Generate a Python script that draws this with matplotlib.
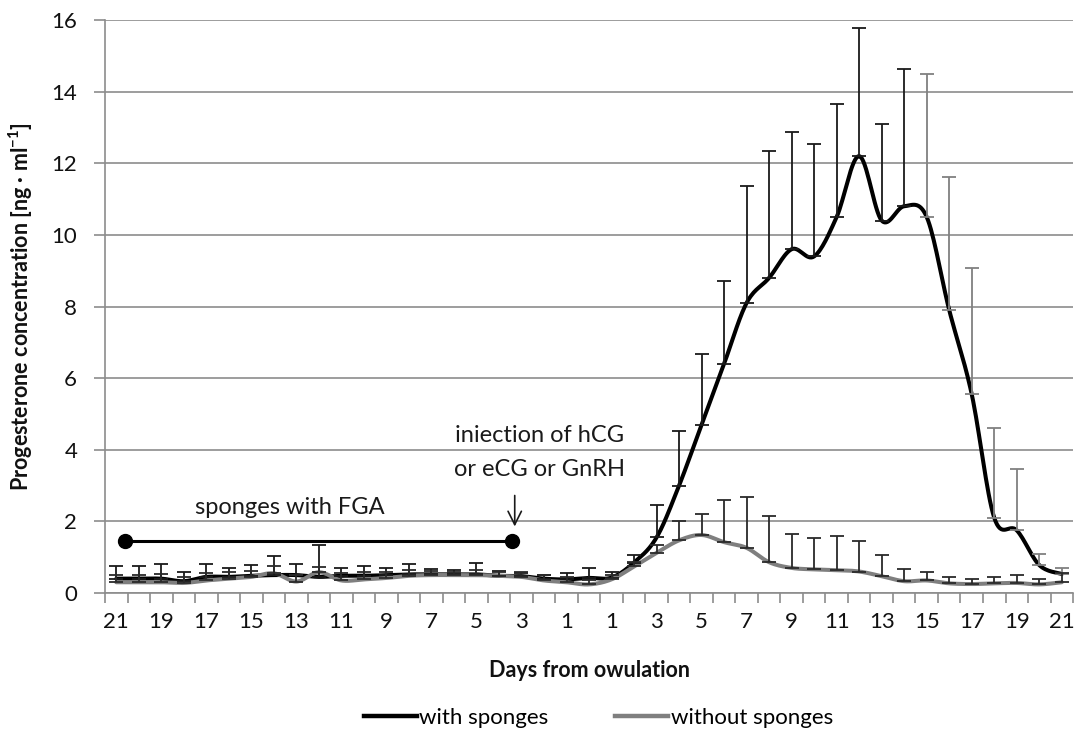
import numpy as np
import matplotlib.pyplot as plt
from matplotlib.lines import Line2D

plt.rcParams['font.family'] = ['Lato', 'DejaVu Sans']

# days from ovulation (-21 .. 21)
days = np.arange(-21, 22)

# with sponges: mean and top of error bar
with_mean = [0.40, 0.40, 0.40, 0.33, 0.45, 0.45, 0.48, 0.50, 0.50, 0.45, 0.48,
             0.48, 0.50, 0.52, 0.52, 0.52, 0.52, 0.48, 0.47, 0.40, 0.38,
             0.42,
             0.43, 0.85, 1.55, 3.00, 4.70, 6.40, 8.10, 8.80, 9.60, 9.40, 10.50,
             12.20, 10.40, 10.80, 10.50, 7.90, 5.55, 2.10, 1.75, 0.78, 0.53]
with_top = [0.74, 0.74, 0.81, 0.58, 0.81, 0.70, 0.77, 1.03, 0.80, 1.33, 0.71,
            0.75, 0.71, 0.82, 0.66, 0.64, 0.84, 0.62, 0.56, 0.49, 0.55,
            0.71,
            0.58, 1.07, 2.47, 4.52, 6.68, 8.72, 11.37, 12.35, 12.87, 12.53, 13.65,
            15.78, 13.09, 14.62, 14.50, 11.63, 9.07, 4.60, 3.46, 1.10, 0.71]

# without sponges
without_mean = [0.30, 0.30, 0.30, 0.28, 0.35, 0.40, 0.45, 0.55, 0.32, 0.58, 0.35,
                0.38, 0.42, 0.48, 0.50, 0.50, 0.50, 0.48, 0.45, 0.35, 0.30,
                0.24,
                0.38, 0.74, 1.12, 1.47, 1.62, 1.42, 1.26, 0.86, 0.70, 0.66, 0.64,
                0.60, 0.47, 0.33, 0.35, 0.27, 0.25, 0.27, 0.28, 0.24, 0.30]
without_top = [0.50, 0.50, 0.52, 0.45, 0.55, 0.58, 0.62, 0.75, 0.50, 0.72, 0.55,
               0.58, 0.60, 0.65, 0.62, 0.60, 0.64, 0.60, 0.58, 0.50, 0.45,
               0.35,
               0.50, 0.86, 1.33, 2.00, 2.21, 2.61, 2.69, 2.14, 1.66, 1.53, 1.59,
               1.45, 1.07, 0.68, 0.59, 0.45, 0.40, 0.45, 0.50, 0.38, 0.57]

sponge_span = [-20.6, -3.4]
sponge_level = 1.45


def smooth(x, y, n=16):
    # Excel-like smoothed line (Catmull-Rom through the points)
    x = np.asarray(x, float)
    y = np.asarray(y, float)
    px = np.concatenate([[x[0]], x, [x[-1]]])
    py = np.concatenate([[y[0]], y, [y[-1]]])
    xs, ys = [], []
    t = np.linspace(0, 1, n, endpoint=False)
    for i in range(1, len(px) - 2):
        p0, p1, p2, p3 = py[i - 1], py[i], py[i + 1], py[i + 2]
        q0, q1, q2, q3 = px[i - 1], px[i], px[i + 1], px[i + 2]
        c1y, c2y = p1 + (p2 - p0) / 6, p2 - (p3 - p1) / 6
        c1x, c2x = q1 + (q2 - q0) / 6, q2 - (q3 - q1) / 6
        b = [(1 - t) ** 3, 3 * (1 - t) ** 2 * t, 3 * (1 - t) * t ** 2, t ** 3]
        xs.append(b[0] * q1 + b[1] * c1x + b[2] * c2x + b[3] * q2)
        ys.append(b[0] * p1 + b[1] * c1y + b[2] * c2y + b[3] * p2)
    xs.append([x[-1]])
    ys.append([y[-1]])
    return np.concatenate(xs), np.concatenate(ys)


fig = plt.figure(figsize=(10.78, 7.36), dpi=100)
ax = fig.add_axes([0.0974, 0.1943, 0.898, 0.7785])

ax.set_xlim(-21.5, 21.5)
ax.set_ylim(0, 16)
ax.set_yticks(np.arange(0, 17, 2))
ax.grid(axis='y', color='#8c8c8c', linewidth=1.2)
ax.set_axisbelow(True)
for s in ['top', 'right']:
    ax.spines[s].set_visible(False)
for s in ['left', 'bottom']:
    ax.spines[s].set_color('#8c8c8c')
    ax.spines[s].set_linewidth(1.2)

# lines
sx, sy = smooth(days, with_mean)
ax.plot(sx, sy, color='black', lw=2.9, zorder=3, solid_capstyle='round')
gx, gy = smooth(days, without_mean)
ax.plot(gx, gy, color='#7f7f7f', lw=2.9, zorder=3, solid_capstyle='round')

# error bars (upper only)
with_mean = np.array(with_mean)
with_top = np.array(with_top)
without_mean = np.array(without_mean)
without_top = np.array(without_top)
late = days >= 15
for mask, col in [(~late, '#1a1a1a'), (late, '#808080')]:
    err = [np.zeros(mask.sum()), with_top[mask] - with_mean[mask]]
    ax.errorbar(days[mask], with_mean[mask], yerr=err, fmt='none',
                ecolor=col, elinewidth=1.3, capsize=5, capthick=1.3, zorder=4)
err = [np.zeros(len(days)), without_top - without_mean]
ax.errorbar(days, without_mean, yerr=err, fmt='none', ecolor='#2a2a2a',
            elinewidth=1.3, capsize=5, capthick=1.3, zorder=4)

# sponge period and injection annotation
ax.plot(sponge_span, [sponge_level] * 2, color='black', lw=2.2,
        marker='o', ms=10, zorder=5)
ax.text(-13.3, 2.4, 'sponges with FGA', fontsize=17,
        ha='center', va='center', color='#1a1a1a')
ax.text(-2.2, 4.4, 'iniection of hCG', fontsize=17, ha='center',
        va='center', color='#1a1a1a')
ax.text(-2.2, 3.45, 'or eCG or GnRH', fontsize=17, ha='center',
        va='center', color='#1a1a1a')
ax.annotate('', xy=(-3.3, 1.78), xytext=(-3.3, 2.8),
            arrowprops=dict(arrowstyle='->', color='#1a1a1a', lw=1.2,
                            mutation_scale=24))

# axes ticks
odd = days[days % 2 != 0]
ax.set_xticks(odd)
ax.set_xticklabels([str(abs(d)) for d in odd])
ax.set_xticks(np.arange(-21.5, 22, 1.0), minor=True)
ax.tick_params(axis='x', which='major', length=0, labelsize=16, pad=14,
               labelcolor='#111111')
ax.tick_params(axis='x', which='minor', length=7, width=1.2, color='#8c8c8c')
ax.tick_params(axis='y', length=8, width=1.2, color='#8c8c8c', labelsize=16,
               pad=12, labelcolor='#111111')

ax.set_xlabel('Days from owulation', fontsize=15.5, fontweight='bold',
              labelpad=20, color='#111111')
ax.set_ylabel('Progesterone concentration [ng · ml$^{\\mathregular{-1}}$]',
              fontsize=15.5, fontweight='bold', labelpad=12, color='#111111')

handles = [Line2D([], [], color='black', lw=3.2),
           Line2D([], [], color='#7f7f7f', lw=3.2)]
fig.legend(handles, ['with sponges', 'without sponges'], loc='center',
           bbox_to_anchor=(0.555, 0.025), ncol=2, frameon=False, fontsize=16,
           handlelength=2.4, handletextpad=0.1, columnspacing=3.0)

fig.savefig('out.png', dpi=100)
